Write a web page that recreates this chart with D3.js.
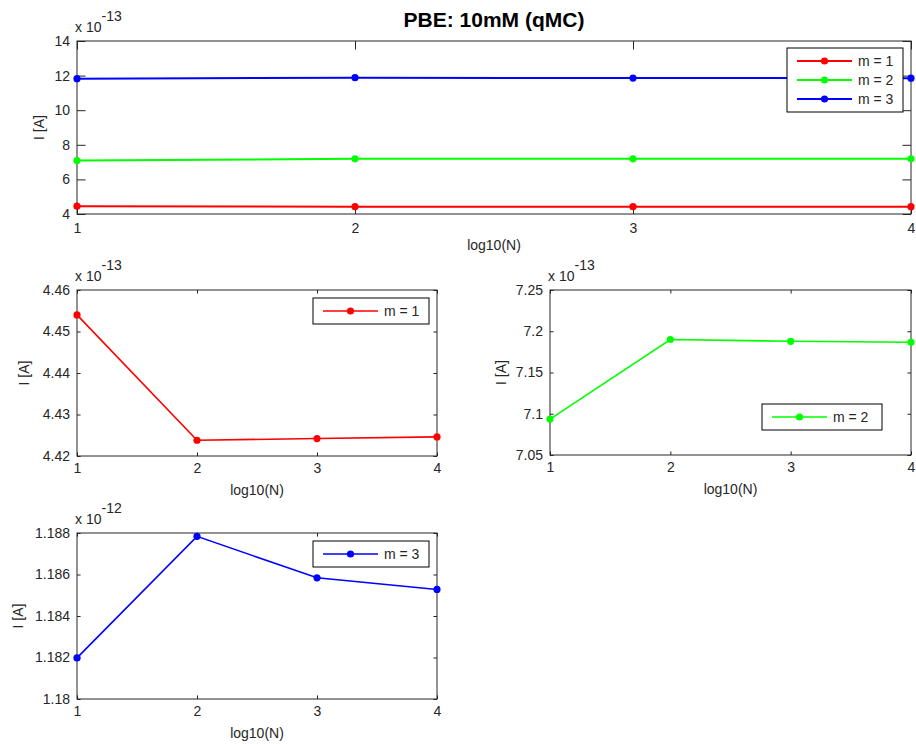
<!DOCTYPE html>
<html>
<head>
<meta charset="utf-8">
<script src="https://cdn.jsdelivr.net/npm/d3@7"></script>
<style>
  html, body { margin: 0; padding: 0; background: #fff; }
  svg { display: block; font-family: "Liberation Sans", Arial, sans-serif; }
</style>
</head>
<body>
<svg id="fig" width="916" height="744"></svg>
<script>
// Sample sizes on a log10 scale
const logN = [1, 2, 3, 4];

// Current I [A] for each mode m
const currentM1 = [4.4540e-13, 4.4238e-13, 4.4242e-13, 4.4246e-13];
const currentM2 = [7.0935e-13, 7.1900e-13, 7.1878e-13, 7.1866e-13];
const currentM3 = [1.18198e-12, 1.18784e-12, 1.18584e-12, 1.18528e-12];

const seriesNames = ["m = 1", "m = 2", "m = 3"];
const seriesColors = ["#ff0000", "#00ff00", "#0000ff"];

// Axis tick values (in units of the axis exponent)
const xTicks = [1, 2, 3, 4];
const yTicksAll = [4, 6, 8, 10, 12, 14];
const yTicksM1 = [4.42, 4.43, 4.44, 4.45, 4.46];
const yTicksM2 = [7.05, 7.1, 7.15, 7.2, 7.25];
const yTicksM3 = [1.18, 1.182, 1.184, 1.186, 1.188];

const titleText = "PBE: 10mM (qMC)";
const xLabel = "log10(N)";
const yLabel = "I [A]";

const svg = d3.select("#fig");
const ink = "#262626";
const fontSize = 14;

const allSeries = [currentM1, currentM2, currentM3].map((vals, i) => ({
  name: seriesNames[i],
  color: seriesColors[i],
  points: logN.map((x, j) => ({ x, y: vals[j] }))
}));

function fmt(v) { return String(+v.toFixed(6)); }

function drawPanel(p) {
  const g = svg.append("g");
  const x = d3.scaleLinear().domain([1, 4]).range([p.left, p.right]);
  const y = d3.scaleLinear().domain(p.yDomain).range([p.bottom, p.top]);
  const scale = Math.pow(10, p.exp);

  // white plot area
  g.append("rect")
    .attr("x", p.left).attr("y", p.top)
    .attr("width", p.right - p.left).attr("height", p.bottom - p.top)
    .attr("fill", "#fff");

  // axes on all four sides with inward ticks
  const tl = p.tick;
  const axB = d3.axisBottom(x).tickValues(xTicks).tickSize(-tl).tickPadding(p.xPad).tickFormat(fmt);
  const axL = d3.axisLeft(y).tickValues(p.yTicks).tickSize(-tl).tickPadding(7).tickFormat(fmt);
  const axT = d3.axisTop(x).tickValues(xTicks).tickSize(-tl).tickFormat("");
  const axR = d3.axisRight(y).tickValues(p.yTicks).tickSize(-tl).tickFormat("");

  [[axB, `translate(0,${p.bottom})`], [axL, `translate(${p.left},0)`],
   [axT, `translate(0,${p.top})`], [axR, `translate(${p.right},0)`]].forEach(([ax, tr]) => {
    const a = g.append("g").attr("transform", tr).call(ax);
    a.select(".domain").remove();
    a.selectAll(".tick line").attr("stroke", ink).attr("stroke-width", 1);
    a.selectAll(".tick text").attr("fill", ink)
      .attr("font-size", fontSize).attr("font-family", "Liberation Sans, Arial, sans-serif");
  });

  // axes box
  g.append("rect")
    .attr("x", p.left).attr("y", p.top)
    .attr("width", p.right - p.left).attr("height", p.bottom - p.top)
    .attr("fill", "none").attr("stroke", ink).attr("stroke-width", 1);

  // exponent label
  const ex = g.append("text").attr("x", p.left - 2).attr("y", p.top - 9)
    .attr("fill", ink).attr("font-size", fontSize);
  ex.append("tspan").text("x 10");
  ex.append("tspan").attr("dy", -11).text(String(p.exp));

  // axis labels
  g.append("text").attr("x", (p.left + p.right) / 2).attr("y", p.bottom + p.xLabelDy)
    .attr("text-anchor", "middle").attr("fill", ink).attr("font-size", fontSize).text(xLabel);
  g.append("text")
    .attr("transform", `translate(${p.yLabelX},${(p.top + p.bottom) / 2}) rotate(-90)`)
    .attr("text-anchor", "middle").attr("fill", ink).attr("font-size", fontSize).text(yLabel);

  // data lines and markers
  const line = d3.line().x(d => x(d.x)).y(d => y(d.y / scale));
  p.series.forEach(s => {
    g.append("path").datum(s.points)
      .attr("d", line).attr("fill", "none")
      .attr("stroke", s.color).attr("stroke-width", p.lineWidth);
    g.selectAll(null).data(s.points).enter().append("circle")
      .attr("cx", d => x(d.x)).attr("cy", d => y(d.y / scale))
      .attr("r", 3.6).attr("fill", s.color);
  });

  // legend
  const L = p.legend;
  const rowH = 19;
  const lg = g.append("g");
  lg.append("rect").attr("x", L.x).attr("y", L.y)
    .attr("width", L.w).attr("height", p.series.length * rowH + 7)
    .attr("fill", "#fff").attr("stroke", "#000").attr("stroke-width", 1);
  p.series.forEach((s, i) => {
    const cy = L.y + 13 + i * rowH;
    lg.append("line").attr("x1", L.x + 10).attr("x2", L.x + 65)
      .attr("y1", cy).attr("y2", cy)
      .attr("stroke", s.color).attr("stroke-width", p.lineWidth);
    lg.append("circle").attr("cx", L.x + 37.5).attr("cy", cy).attr("r", 3.6).attr("fill", s.color);
    lg.append("text").attr("x", L.x + 71).attr("y", cy + 5)
      .attr("fill", ink).attr("font-size", fontSize).text(s.name);
  });
}

// combined panel
drawPanel({
  left: 77, right: 911, top: 41, bottom: 214, tick: 8.5, xPad: 9, xLabelDy: 36,
  yDomain: [4, 14], yTicks: yTicksAll, exp: -13, yLabelX: 44,
  series: allSeries, lineWidth: 2,
  legend: { x: 787, y: 48, w: 116 }
});

// single-mode panels
drawPanel({
  left: 77, right: 437, top: 290, bottom: 456, tick: 3.6, xPad: 7.5, xLabelDy: 39,
  yDomain: [4.42, 4.46], yTicks: yTicksM1, exp: -13, yLabelX: 29,
  series: [allSeries[0]], lineWidth: 1.6,
  legend: { x: 313, y: 298, w: 116 }
});
drawPanel({
  left: 550, right: 911, top: 290, bottom: 455, tick: 3.6, xPad: 7.5, xLabelDy: 39,
  yDomain: [7.05, 7.25], yTicks: yTicksM2, exp: -13, yLabelX: 506,
  series: [allSeries[1]], lineWidth: 1.6,
  legend: { x: 762, y: 404, w: 120 }
});
drawPanel({
  left: 77, right: 437, top: 533, bottom: 699, tick: 3.6, xPad: 7.5, xLabelDy: 39,
  yDomain: [1.18, 1.188], yTicks: yTicksM3, exp: -12, yLabelX: 23,
  series: [allSeries[2]], lineWidth: 1.6,
  legend: { x: 313, y: 541, w: 116 }
});

// figure title
svg.append("text").attr("x", 494).attr("y", 27)
  .attr("text-anchor", "middle").attr("font-weight", "bold")
  .attr("font-size", 21).attr("fill", "#000").text(titleText);
</script>
</body>
</html>
